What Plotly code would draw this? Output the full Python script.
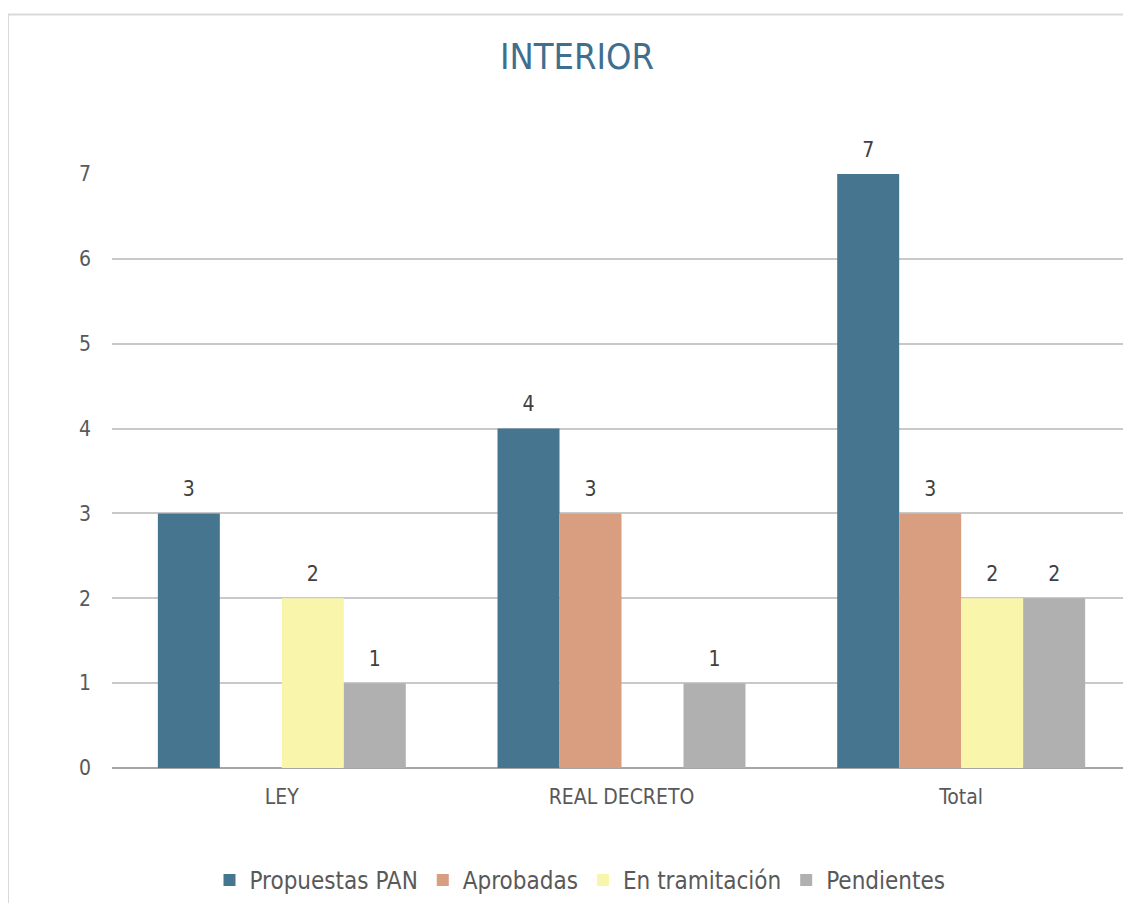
import plotly.graph_objects as go

categorias = ["LEY", "REAL DECRETO", "Total"]
propuestas_pan = [3, 4, 7]
aprobadas = [None, 3, 3]
en_tramitacion = [2, None, 2]
pendientes = [1, 1, 2]

series = [
    ("Propuestas PAN", propuestas_pan, "#46758F"),
    ("Aprobadas", aprobadas, "#D99E80"),
    ("En tramitación", en_tramitacion, "#F9F6AC"),
    ("Pendientes", pendientes, "#B0B0B0"),
]

FONT = "DejaVu Sans Condensed"

fig = go.Figure()
for i, (nombre, valores, color) in enumerate(series):
    fig.add_trace(go.Bar(
        x=categorias, y=valores, name=nombre,
        marker=dict(color=color, line=dict(width=0)),
        offsetgroup=str(i),
    ))
# data labels as text-only scatter, grouped like the bars, a bit above the bar tops
for i, (nombre, valores, color) in enumerate(series):
    fig.add_trace(go.Scatter(
        x=categorias, y=valores, mode="markers+text", showlegend=False,
        offsetgroup=str(i),
        marker=dict(size=18, opacity=0),
        text=[str(v) if v is not None else "" for v in valores],
        textposition="top center", cliponaxis=False, hoverinfo="skip",
        textfont=dict(family=FONT, size=21, color="#404040"),
    ))

# the page body has an 8px margin, so the figure sits at (8, 8)
OX, OY = 8, 8
W, H = 1123, 895
L, R, T, B = 112 - OX, 0, 174 - OY, H - (770 - OY)
pw, ph = W - L - R, H - T - B


def px_x(X):
    return (X - 112) / pw


def px_y(Y):
    return (770 - Y) / ph


fig.update_layout(
    width=W, height=H,
    margin=dict(l=L, r=R, t=T, b=B, pad=0),
    paper_bgcolor="white", plot_bgcolor="white",
    barmode="group", bargap=0.27, bargroupgap=0,
    scattermode="group", scattergap=0.27,
    font=dict(family=FONT, size=21, color="#595959"),
    title=dict(text="INTERIOR", x=(577 - OX) / W, xanchor="center",
               y=1 - (56 - OY) / H, yanchor="middle",
               font=dict(family=FONT, size=36, color="#3F6F8F")),
    xaxis=dict(showgrid=False, showline=False, ticks="",
               ticklabelstandoff=14,
               tickfont=dict(size=21, color="#595959")),
    yaxis=dict(range=[0, 7], dtick=1, showgrid=True, gridcolor="#C9C9C9",
               gridwidth=2, zeroline=True, zerolinecolor="#A6A6A6",
               zerolinewidth=2, showline=False, ticks="",
               ticklabelstandoff=20,
               tickfont=dict(size=21, color="#595959")),
    legend=dict(orientation="h", x=px_x(580), xanchor="center",
                y=px_y(883), yanchor="middle",
                font=dict(size=24, color="#595959"),
                itemwidth=30, traceorder="normal"),
    shapes=[dict(type="rect", xref="paper", yref="paper",
                 x0=px_x(8), x1=px_x(1250),
                 y0=px_y(1000), y1=px_y(14),
                 line=dict(color="#D9D9D9", width=2), layer="below")],
)

fig.write_html("out.html")
